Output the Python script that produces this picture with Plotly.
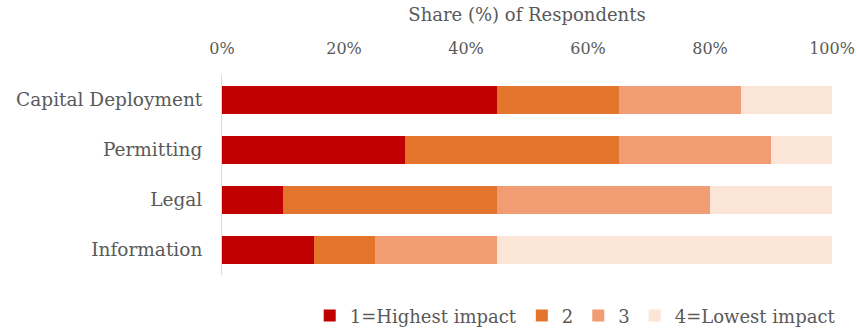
import plotly.graph_objects as go

# Survey categories (top to bottom)
categories = ["Capital Deployment", "Permitting", "Legal", "Information"]

# Share (%) of respondents per impact rating
impact_1 = [45, 30, 10, 15]
impact_2 = [20, 35, 35, 10]
impact_3 = [20, 25, 35, 20]
impact_4 = [15, 10, 20, 55]

series_names = ["1=Highest impact", "2", "3", "4=Lowest impact"]
series_values = [impact_1, impact_2, impact_3, impact_4]
series_colors = ["#C00000", "#E3742B", "#F29C74", "#FBE5D6"]

x_ticks = [0, 20, 40, 60, 80, 100]
x_ticklabels = [f"{v}%" for v in x_ticks]

FONT = "Palatino Linotype, Book Antiqua, Palatino, DejaVu Serif, serif"
TEXT = "#595959"

fig = go.Figure()
for name, vals, col in zip(series_names, series_values, series_colors):
    fig.add_trace(go.Bar(
        y=categories, x=vals, name=name, orientation="h",
        marker=dict(color=col, line=dict(width=0)),
        width=0.56,
    ))

fig.update_layout(
    barmode="stack",
    width=857, height=329,
    margin=dict(l=222, r=25, t=75, b=54, autoexpand=False),
    paper_bgcolor="white", plot_bgcolor="white",
    font=dict(family=FONT, size=17, color=TEXT),
    showlegend=True,
    legend=dict(
        orientation="h", xref="container", yref="container",
        x=0.981, xanchor="right", y=0.04, yanchor="middle",
        font=dict(family=FONT, size=18, color=TEXT),
        traceorder="normal", itemwidth=30,
    ),
    xaxis=dict(
        side="top", range=[0, 100], tickvals=x_ticks, ticktext=x_ticklabels,
        showgrid=False, zeroline=False, showline=False, automargin=False,
        ticks="outside", ticklen=0, ticklabelstandoff=14,
        tickfont=dict(family=FONT, size=16, color=TEXT),
        title=dict(text="Share (%) of Respondents", standoff=12,
                   font=dict(family=FONT, size=18, color=TEXT)),
        fixedrange=True,
    ),
    yaxis=dict(
        autorange="reversed", showgrid=False, zeroline=False, automargin=False,
        showline=True, linecolor="#D9D9D9", linewidth=1,
        ticks="outside", ticklen=0, ticklabelstandoff=15,
        tickfont=dict(family=FONT, size=18.5, color=TEXT),
        fixedrange=True,
    ),
)

fig.write_html("out.html")
